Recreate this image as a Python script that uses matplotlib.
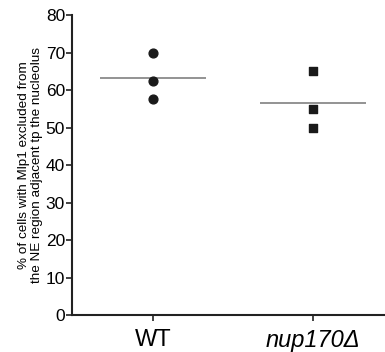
import matplotlib
matplotlib.use("Agg")
import matplotlib.pyplot as plt
import numpy as np

plt.rcParams['font.family'] = ['Liberation Sans', 'DejaVu Sans']

categories = ["WT", "nup170Δ"]
wt_values = [70, 62.5, 57.5]
nup_values = [65, 55, 50]
yticks = [0, 10, 20, 30, 40, 50, 60, 70, 80]

fig = plt.figure(figsize=(3.85, 3.52), dpi=100)
ax = fig.add_axes([0.187, 0.105, 0.813, 0.852])

ax.scatter([0]*len(wt_values), wt_values, marker='o', s=40, color='#1a1a1a', zorder=3)
ax.scatter([1]*len(nup_values), nup_values, marker='s', s=40, color='#1a1a1a', zorder=3)
for i, vals in enumerate([wt_values, nup_values]):
    m = np.mean(vals)
    ax.hlines(m, i - 0.334, i + 0.334, color='#808080', lw=1.2, zorder=2)

ax.set_xlim(-0.506, 1.45)
ax.set_ylim(0, 80)
ax.set_yticks(yticks)
ax.set_yticklabels([str(t) for t in yticks], fontsize=12.5)
ax.set_xticks([0, 1])
ax.set_xticklabels(categories, fontsize=17)
ax.get_xticklabels()[1].set_style('italic')
for s in ['top', 'right']:
    ax.spines[s].set_visible(False)
for s in ['left', 'bottom']:
    ax.spines[s].set_linewidth(1.5)
    ax.spines[s].set_color('#222222')
ax.tick_params(axis='both', direction='out', length=4, width=1.2, color='#222222', pad=1)
ax.tick_params(axis='x', pad=6)
ax.set_ylabel("% of cells with Mlp1 excluded from\nthe NE region adjacent tp the nucleolus", fontsize=9.7, labelpad=2, linespacing=1.15)
fig.savefig("out.png", dpi=100)
